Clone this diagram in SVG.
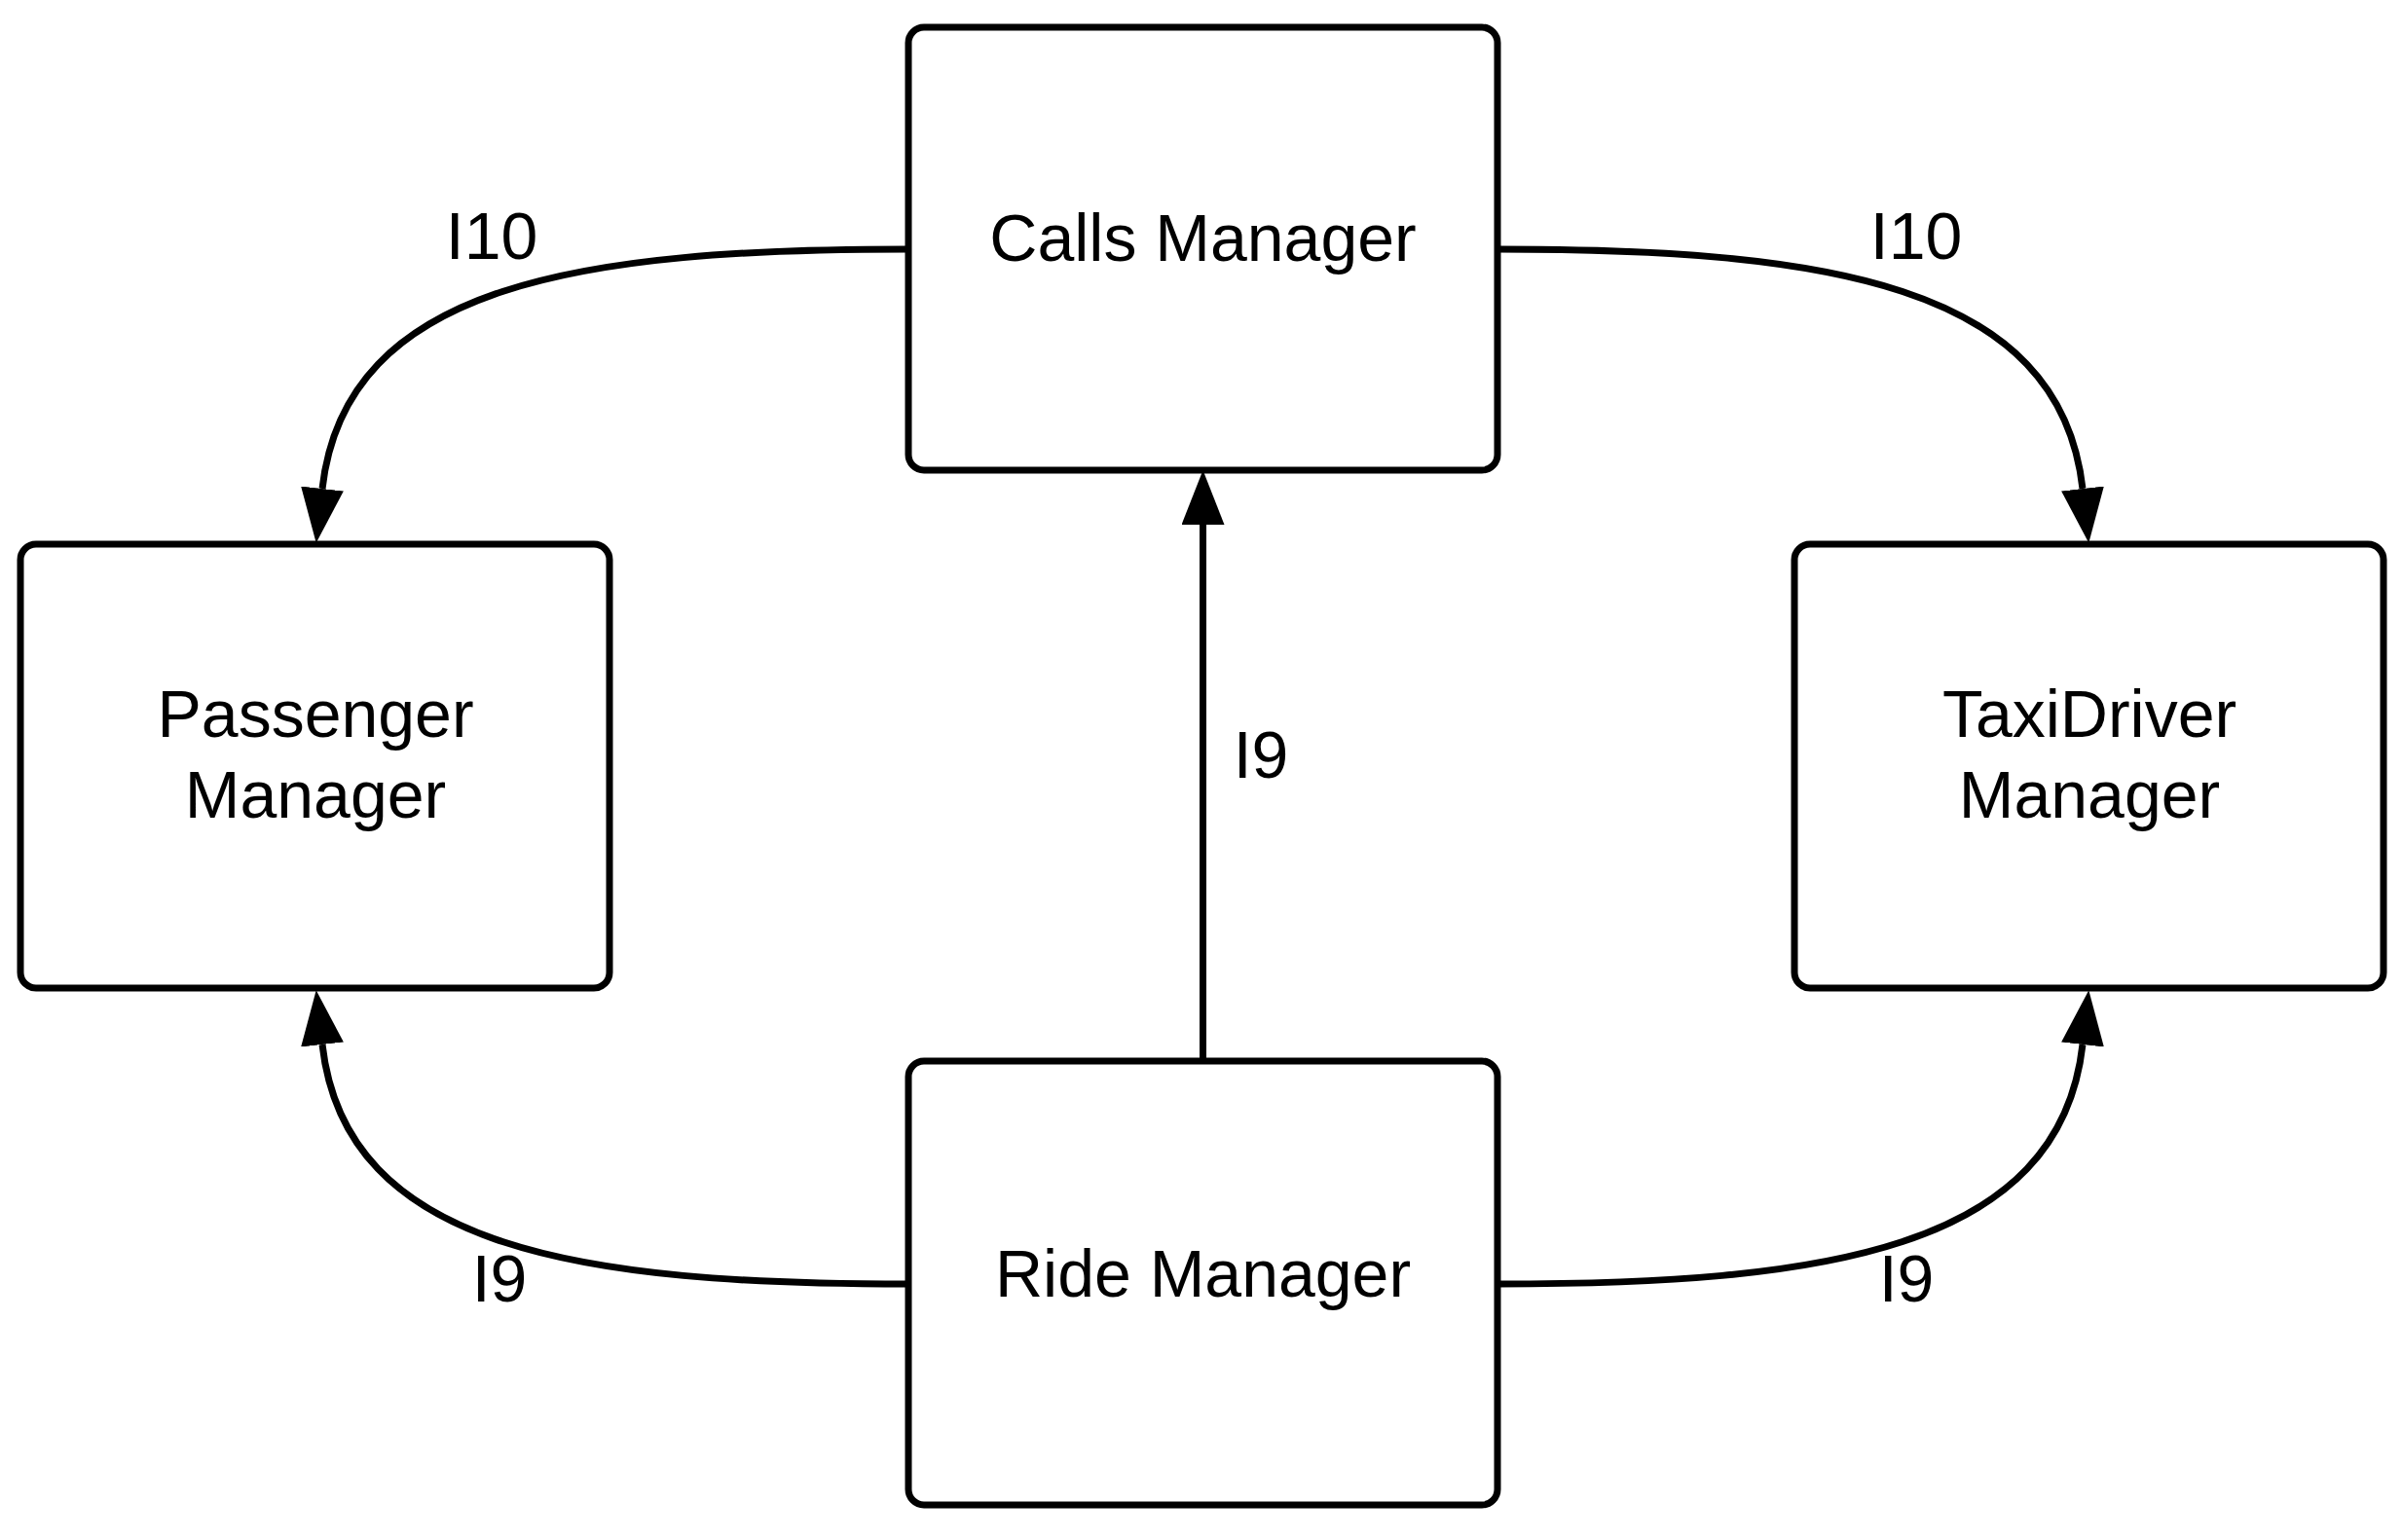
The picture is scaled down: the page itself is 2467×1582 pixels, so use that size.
<svg xmlns="http://www.w3.org/2000/svg" width="2467" height="1582" viewBox="0 0 2467 1582">
<style>
.box{fill:#fff;stroke:#000;stroke-width:7}
.conn{fill:none;stroke:#000;stroke-width:7}
text{font-family:"Liberation Sans",Arial,sans-serif;font-size:68px;fill:#000;text-anchor:middle}
</style>
<defs>
<marker id="arr" markerUnits="userSpaceOnUse" viewBox="0 -22 56 44" refX="0" refY="0" markerWidth="56" markerHeight="44" orient="auto">
<path d="M0,-22 L56,0 L0,22 z" fill="#000"/>
</marker>
</defs>
<rect width="2467" height="1582" fill="#fff"/>
<g id="calls-manager"><rect class="box" x="933" y="28" width="605" height="455" rx="16"/><text x="1235.5" y="268">Calls Manager</text></g>
<g id="passenger-manager"><rect class="box" x="21" y="559" width="605" height="456" rx="16"/><text x="324" y="757">Passenger</text><text x="324" y="840">Manager</text></g>
<g id="taxidriver-manager"><rect class="box" x="1843" y="559" width="605" height="456" rx="16"/><text x="2146" y="757">TaxiDriver</text><text x="2146" y="840">Manager</text></g>
<g id="ride-manager"><rect class="box" x="933" y="1090" width="605" height="456" rx="16"/><text x="1235.5" y="1332">Ride Manager</text></g>
<g id="connectors">
<path class="conn" d="M933 256 C600 256 355 290 331 502" marker-end="url(#arr)"/>
<path class="conn" d="M1538 256 C1870 256 2115 290 2139 502" marker-end="url(#arr)"/>
<path class="conn" d="M1235.5 1090 L1235.5 539" marker-end="url(#arr)"/>
<path class="conn" d="M933 1319 C600 1319 355 1285 331 1073" marker-end="url(#arr)"/>
<path class="conn" d="M1538 1319 C1870 1319 2115 1285 2139 1073" marker-end="url(#arr)"/>
<text x="505" y="266">I10</text>
<text x="1968" y="266">I10</text>
<text x="1295" y="799">I9</text>
<text x="513" y="1337">I9</text>
<text x="1958" y="1337">I9</text>
</g>
</svg>
